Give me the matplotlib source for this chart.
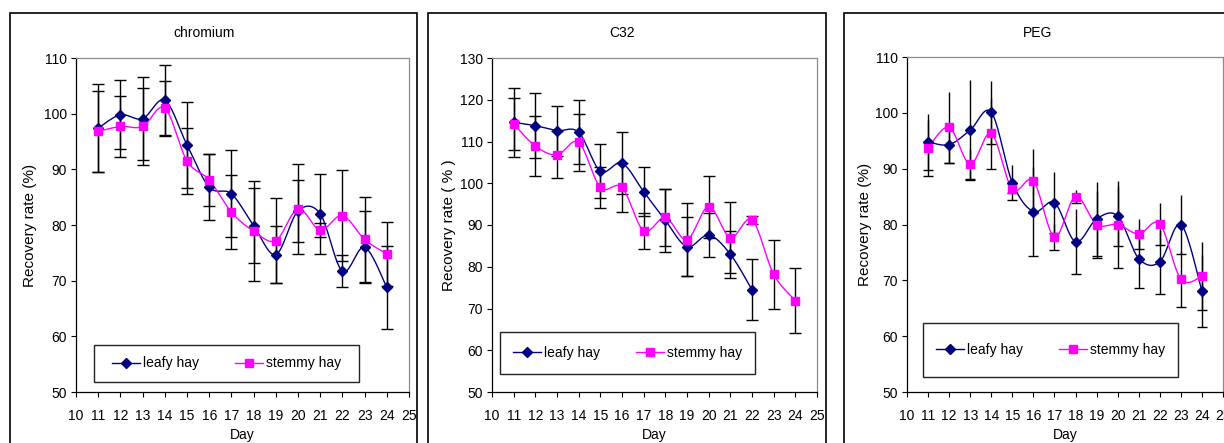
import matplotlib

matplotlib.use("Agg")
import matplotlib.pyplot as plt  # noqa: E402
import numpy as np  # noqa: E402
from matplotlib.lines import Line2D  # noqa: E402
from matplotlib.patches import Rectangle  # noqa: E402

plt.rcParams["font.family"] = ["Liberation Sans", "DejaVu Sans"]

DAYS = list(range(11, 25))
NAN = float("nan")

CR_LEAFY = [97.4, 99.8, 99.1, 102.4, 94.4, 86.8, 85.6, 79.9, 74.7, 82.5, 82.0, 71.7, 76.0, 68.8]
CR_LEAFY_ERR = [7.9, 6.2, 7.5, 6.4, 7.7, 5.9, 7.8, 6.8, 5.1, 5.5, 7.2, 2.9, 6.5, 7.5]
CR_STEMMY = [96.8, 97.7, 97.7, 101.0, 91.5, 88.1, 82.3, 78.9, 77.2, 82.9, 79.1, 81.7, 77.4, 74.8]
CR_STEMMY_ERR = [7.3, 5.4, 7.0, 4.9, 5.9, 4.6, 6.6, 9.0, 7.6, 8.1, 1.3, 8.2, 7.6, 5.7]

C32_LEAFY = [114.6, 113.8, 112.6, 112.2, 102.9, 104.8, 98.0, 91.1, 84.8, 87.6, 83.0, 74.5, NAN, NAN]
C32_LEAFY_ERR = [8.3, 7.7, 6.0, 7.7, 6.4, 7.4, 5.8, 7.5, 7.0, 5.3, 5.6, 7.3, NAN, NAN]
C32_STEMMY = [114.2, 108.9, 106.8, 109.8, 99.0, 99.0, 88.6, 91.8, 86.5, 94.4, 87.0, 91.2, 78.2, 71.9]
C32_STEMMY_ERR = [6.3, 7.2, 5.6, 6.9, 4.9, 5.9, 4.3, 6.8, 8.8, 7.4, 8.4, 1.0, 8.3, 7.7]

PEG_LEAFY = [94.8, 94.3, 96.9, 100.1, 87.5, 82.3, 83.9, 76.9, 81.0, 81.5, 73.9, 73.3, 80.0, 68.1]
PEG_LEAFY_ERR = [5.0, 3.3, 9.0, 5.6, 3.2, 8.0, 5.5, 5.8, 6.6, 5.4, 5.3, 5.7, 5.3, 6.5]
PEG_STEMMY = [93.7, 97.4, 90.8, 96.3, 86.3, 87.8, 77.8, 85.0, 80.0, 80.0, 78.3, 80.1, 70.2, 70.7]
PEG_STEMMY_ERR = [5.1, 6.4, 2.7, 6.4, 0.7, 5.7, 2.3, 1.2, 6.0, 7.8, 2.7, 3.8, 4.9, 6.1]

NAVY = "#000080"
MAGENTA = "#FF00FF"
W, H = 1224, 443

# pixel layout: axes box, chart frame, legend box, ylabel x
PANELS = [
    dict(title="chromium", ylabel="Recovery rate (%)", ylim=(50, 110),
         leafy=CR_LEAFY, leafy_err=CR_LEAFY_ERR, stemmy=CR_STEMMY, stemmy_err=CR_STEMMY_ERR,
         ax=(76, 58, 409, 392), frame=(10, 417), legend=(94, 345, 359, 382), ylab_x=30,
         top_caps=True),
    dict(title="C32", ylabel="Recovery rate ( % )", ylim=(50, 130),
         leafy=C32_LEAFY, leafy_err=C32_LEAFY_ERR, stemmy=C32_STEMMY, stemmy_err=C32_STEMMY_ERR,
         ax=(492, 58, 817, 392), frame=(428, 826), legend=(500, 332, 755, 374), ylab_x=449,
         top_caps=True),
    dict(title="PEG", ylabel="Recovery rate (%)", ylim=(50, 110),
         leafy=PEG_LEAFY, leafy_err=PEG_LEAFY_ERR, stemmy=PEG_STEMMY, stemmy_err=PEG_STEMMY_ERR,
         ax=(907, 57, 1223, 392), frame=(844, 1240), legend=(923, 323, 1178, 377), ylab_x=865,
         top_caps=False),
]


def smooth(x, y, steps=20):
    """Excel-style smoothed line: Catmull-Rom converted to cubic Bezier."""
    x = np.asarray(x, float)
    y = np.asarray(y, float)
    ok = ~np.isnan(y)
    p = np.column_stack([x[ok], y[ok]])
    n = len(p)
    t = np.linspace(0, 1, steps)[:, None]
    out = [p[:1]]
    for i in range(n - 1):
        p0, p1, p2, p3 = p[max(i - 1, 0)], p[i], p[i + 1], p[min(i + 2, n - 1)]
        c1 = p1 + (p2 - p0) / 6
        c2 = p2 - (p3 - p1) / 6
        seg = ((1 - t) ** 3) * p1 + 3 * ((1 - t) ** 2) * t * c1 + 3 * (1 - t) * t ** 2 * c2 + t ** 3 * p2
        out.append(seg[1:])
    out = np.vstack(out)
    return out[:, 0], out[:, 1]


fig = plt.figure(figsize=(W / 100, H / 100), dpi=100)

for cfg in PANELS:
    x0, y0, x1, y1 = cfg["ax"]
    ax = fig.add_axes([x0 / W, (H - y1) / H, (x1 - x0) / W, (y1 - y0) / H])

    # chart frame
    fx0, fx1 = cfg["frame"]
    fig.patches.append(Rectangle((fx0 / W, -0.1), (fx1 - fx0) / W, 0.1 + (H - 13) / H,
                                 transform=fig.transFigure, fill=False,
                                 edgecolor="black", linewidth=1.2, zorder=0))

    x = np.array(DAYS, float)
    for key, color, marker, ms in [("leafy", NAVY, "D", 5.5), ("stemmy", MAGENTA, "s", 6.0)]:
        y = np.array(cfg[key], float)
        e = np.array(cfg[key + "_err"], float)
        ok = ~np.isnan(y)
        if cfg["top_caps"]:
            ax.errorbar(x[ok], y[ok], yerr=e[ok], fmt="none", ecolor="black",
                        elinewidth=1.0, capsize=4.5, capthick=1.0, zorder=2)
        else:
            ax.errorbar(x[ok], y[ok], yerr=e[ok], fmt="none", ecolor="black",
                        elinewidth=1.0, capsize=0, zorder=2)
            ax.plot(x[ok], y[ok] - e[ok], linestyle="none", marker="_",
                    markersize=7, markeredgewidth=1.0, color="black", zorder=2)
        sx, sy = smooth(x, y)
        ax.plot(sx, sy, color=color, linewidth=1.0, zorder=3)
        ax.plot(x[ok], y[ok], linestyle="none", marker=marker, markersize=ms,
                color=color, markeredgecolor=color, zorder=4)

    ax.set_xlim(10, 25)
    ax.set_ylim(*cfg["ylim"])
    ax.set_xticks(range(10, 26))
    ax.set_yticks(range(cfg["ylim"][0], cfg["ylim"][1] + 1, 10))
    ax.tick_params(direction="out", length=3.6, width=0.8, colors="black", labelsize=10)
    ax.tick_params(axis="x", pad=9)
    ax.tick_params(axis="y", pad=3)
    for side in ("left", "bottom"):
        ax.spines[side].set_color("black")
        ax.spines[side].set_linewidth(0.9)
    for side in ("top", "right"):
        ax.spines[side].set_color("#8c8c8c")
        ax.spines[side].set_linewidth(0.9)

    ax.set_xlabel("Day", fontsize=10, labelpad=3)
    fig.text(cfg["ylab_x"] / W, (H - (y0 + y1) / 2) / H, cfg["ylabel"], rotation=90,
             ha="center", va="center", fontsize=11)
    fig.text((fx0 + min(fx1, fx0 + 388)) / 2 / W, (H - 33) / H, cfg["title"],
             ha="center", va="center", fontsize=10)

    # legend box
    lx0, ly0, lx1, ly1 = cfg["legend"]
    ax.add_patch(Rectangle(((lx0 - x0) / (x1 - x0), (y1 - ly1) / (y1 - y0)),
                           (lx1 - lx0) / (x1 - x0), (ly1 - ly0) / (y1 - y0),
                           transform=ax.transAxes, facecolor="white", edgecolor="#222222",
                           linewidth=1.0, zorder=5))
    handles = [
        Line2D([], [], color=NAVY, marker="D", markersize=5, linewidth=1.0),
        Line2D([], [], color=MAGENTA, marker="s", markersize=5.5, linewidth=1.0),
    ]
    leg = ax.legend(handles, ["leafy hay", "stemmy hay"], ncol=2, frameon=False,
                    loc="center",
                    bbox_to_anchor=(((lx0 + lx1) / 2 - x0) / (x1 - x0),
                                    (y1 - (ly0 + ly1) / 2) / (y1 - y0)),
                    fontsize=10, handlelength=2.0, handletextpad=0.2,
                    columnspacing=2.6, borderpad=0, borderaxespad=0)
    leg.set_zorder(6)

fig.savefig("out.png", dpi=100)
